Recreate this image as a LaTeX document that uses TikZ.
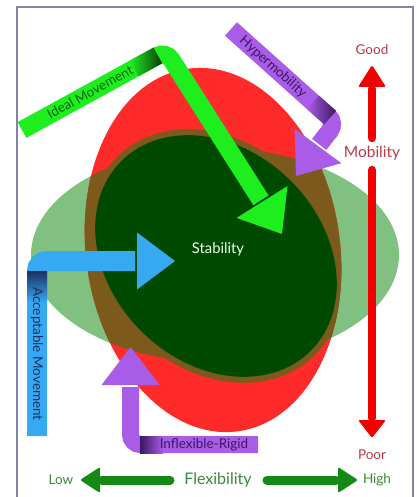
\documentclass[tikz,border=0pt]{standalone}
\usepackage{fontspec}
\setmainfont{Lato}
\usetikzlibrary{calc}
\definecolor{lgreen}{HTML}{80C080}
\definecolor{redE}{HTML}{FF2A2A}
\definecolor{brownE}{HTML}{7B5A1C}
\definecolor{dgreen}{HTML}{004A00}
\definecolor{igreen}{HTML}{1EEE1E}
\definecolor{igdark}{HTML}{0B3B0B}
\definecolor{purp}{HTML}{A95CE8}
\definecolor{purpdark}{HTML}{3A1760}
\definecolor{blueA}{HTML}{36A9F2}
\definecolor{bluedark}{HTML}{1B3060}
\definecolor{redA}{HTML}{F00000}
\definecolor{redT}{HTML}{B83A4A}
\definecolor{flexA}{HTML}{148A14}
\definecolor{flexT}{HTML}{3A8A3A}
\definecolor{frameC}{HTML}{8282AA}
\tikzset{
  shaft/.style={line width=#1, line cap=butt, rounded corners=10pt},
  lbl/.style={inner sep=0pt, font=\fontsize{13.5}{14}\selectfont},
  small/.style={inner sep=0pt, font=\fontsize{13.5}{14}\selectfont},
  big/.style={inner sep=0pt, font=\fontsize{15.5}{16}\selectfont},
}
\begin{document}
\begin{tikzpicture}[x=1pt,y=1pt]
\useasboundingbox (0,0) rectangle (416,-497);
\fill[white] (0,0) rectangle (416,-497);
% frame
\draw[frameC, line width=1.5pt] (17,-497) -- (17,-7) -- (413,-7) -- (413,-497);
% ellipses
\fill[lgreen] (215,-255) ellipse [x radius=184, y radius=107];
\fill[redE, rotate around={8:(213,-250)}] (213,-250) ellipse [x radius=127, y radius=183];
\begin{scope}
  \clip[rotate around={8:(213,-250)}] (213,-250) ellipse [x radius=127, y radius=183];
  \fill[brownE] (215,-255) ellipse [x radius=184, y radius=107];
  \fill[brownE, rotate around={-45:(216,-256)}] (216,-256) ellipse [x radius=140, y radius=112];
\end{scope}
\fill[dgreen, rotate around={-45:(216,-256)}] (216,-256) ellipse [x radius=134, y radius=106];
\node[big, text=white!92!green, font=\fontsize{14.8}{16}\selectfont] (stab) at (218,-249) {Stability};

% Ideal Movement arrow
\coordinate (imS) at (22,-130);
\coordinate (imC) at (166,-51);
\coordinate (imB) at (262,-202);
\coordinate (imT) at (282,-234);
\draw[igreen, shaft=18pt] (imS) -- (imC) -- ($(imB)!-2pt!(imT)$);
\fill[igreen] ($(imB)!30pt!90:(imT)$) -- (imT) -- ($(imB)!30pt!-90:(imT)$) -- cycle;
\begin{scope}[shift={(22,-130)}, rotate=28.75]
  \shade[left color=igreen, right color=igdark] (128,-9) rectangle (155,9);
\end{scope}
\node[lbl, rotate=28.75, text=igdark!80!green] (imL) at (90,-92) {Ideal Movement};

% Hypermobility arrow
\coordinate (hmS) at (231,-29);
\coordinate (hmC) at (336,-123);
\coordinate (hmB) at (318,-146);
\coordinate (hmT) at (296,-176);
\draw[purp, shaft=18pt] (hmS) -- (hmC) -- ($(hmB)!-2pt!(hmT)$);
\fill[purp] ($(hmB)!29pt!90:(hmT)$) -- (hmT) -- ($(hmB)!29pt!-90:(hmT)$) -- cycle;
\begin{scope}[shift={(231,-29)}, rotate=-41.8]
  \shade[left color=purp, right color=purpdark] (110,-9) rectangle (133,9);
\end{scope}
\node[lbl, rotate=-41.8, text=purpdark] (hmL) at (273,-67) {Hypermobility};

% Acceptable Movement arrow
\coordinate (amS) at (37,-436);
\coordinate (amC) at (37,-261);
\coordinate (amB) at (137,-261);
\coordinate (amT) at (175,-261);
\draw[blueA, shaft=20pt] (amS) -- (amC) -- ($(amB)!-2pt!(amT)$);
\fill[blueA] ($(amB)!28.5pt!90:(amT)$) -- (amT) -- ($(amB)!28.5pt!-90:(amT)$) -- cycle;
\shade[top color=bluedark, bottom color=blueA] (27,-271) rectangle (47,-302);
\node[lbl, rotate=-90, text=bluedark] (amL) at (37,-354) {Acceptable Movement};

% Inflexible-Rigid arrow
\coordinate (irS) at (258,-444.5);
\coordinate (irC) at (130.5,-444.5);
\coordinate (irB) at (130.5,-385);
\coordinate (irT) at (130.5,-347);
\draw[purp, shaft=17pt] (irS) -- (irC) -- ($(irB)!-2pt!(irT)$);
\fill[purp] ($(irB)!29pt!90:(irT)$) -- (irT) -- ($(irB)!29pt!-90:(irT)$) -- cycle;
\shade[left color=purpdark, right color=purp] (140,-436) rectangle (163,-453);
\node[lbl, text=purpdark] (irL) at (204,-444.5) {Inflexible-Rigid};

% Mobility arrows
\node[small, text=redT] (good) at (372,-50) {Good};
\node[big, text=redT] (mob) at (372,-153) {Mobility};
\node[small, text=redT] (poor) at (372,-455) {Poor};
\coordinate (muS) at (372,-138);
\coordinate (muB) at (372,-87);
\coordinate (muT) at (372,-65);
\draw[redA, line width=8.5pt, line cap=round] (muS) -- ($(muB)!-2pt!(muT)$);
\fill[redA, rounded corners=1.5pt] ($(muB)!14pt!90:(muT)$) -- (muT) -- ($(muB)!14pt!-90:(muT)$) -- cycle;
\coordinate (mdS) at (372,-170);
\coordinate (mdB) at (372,-420);
\coordinate (mdT) at (372,-438);
\draw[redA, line width=8.5pt, line cap=round] (mdS) -- ($(mdB)!-2pt!(mdT)$);
\fill[redA, rounded corners=1.5pt] ($(mdB)!14pt!90:(mdT)$) -- (mdT) -- ($(mdB)!14pt!-90:(mdT)$) -- cycle;

% Flexibility arrows
\node[small, text=flexT] (low) at (61,-480) {Low};
\node[big, text=flexT, font=\fontsize{16}{17}\selectfont] (flex) at (218,-480) {Flexibility};
\node[small, text=flexT] (high) at (377,-480) {High};
\coordinate (flS) at (170,-480);
\coordinate (flB) at (100,-480);
\coordinate (flT) at (80,-480);
\draw[flexA, line width=9pt, line cap=round] (flS) -- ($(flB)!-2pt!(flT)$);
\fill[flexA, rounded corners=2pt] ($(flB)!13pt!90:(flT)$) -- (flT) -- ($(flB)!13pt!-90:(flT)$) -- cycle;
\coordinate (frS) at (267,-480);
\coordinate (frB) at (338,-480);
\coordinate (frT) at (358,-480);
\draw[flexA, line width=9pt, line cap=round] (frS) -- ($(frB)!-2pt!(frT)$);
\fill[flexA, rounded corners=2pt] ($(frB)!13pt!90:(frT)$) -- (frT) -- ($(frB)!13pt!-90:(frT)$) -- cycle;
\end{tikzpicture}
\end{document}
